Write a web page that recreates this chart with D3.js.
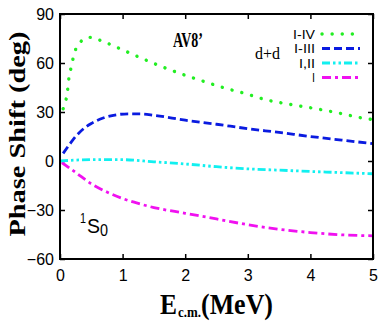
<!DOCTYPE html>
<html>
<head>
<meta charset="utf-8">
<script src="https://cdn.jsdelivr.net/npm/d3@7"></script>
<style>
	body { margin: 0; background: #fff; }
	svg { display: block; }
</style>
</head>
<body>
<div id="chart"></div>
<script>
'use strict';

// phase shifts (deg) vs E_cm (MeV)
var energyIV = [0.05, 0.08, 0.12, 0.14, 0.18, 0.23, 0.32, 0.47, 0.7, 0.96, 1.3, 1.61, 2.0, 2.26, 2.6, 2.94, 3.29, 3.7, 4.12, 4.5, 4.8, 5.0];
var shiftIV = [32, 35, 43, 50, 57.7, 66, 72.7, 75.7, 73, 68.7, 63, 58, 52.5, 49.2, 45, 41.5, 37.5, 34.5, 31.8, 29, 26.5, 25.3];

var energyIII = [0.05, 0.15, 0.25, 0.4, 0.5, 0.7, 0.9, 1.1, 1.3, 1.5, 2.0, 2.5, 3.0, 3.5, 4.0, 4.5, 5.0];
var shiftIII = [4.7, 10, 15, 20.5, 23, 26.5, 28.3, 28.9, 28.8, 28, 25, 22.5, 19.8, 17.5, 15, 12.8, 10.6];

var energyII = [0.0, 0.5, 1.0, 1.5, 2.0, 2.5, 3.0, 3.5, 4.0, 4.5, 5.0];
var shiftII = [0, 0.8, 0.8, -0.5, -1.8, -3.5, -4.8, -5.6, -6.4, -7.1, -7.8];

var energyI = [0.03, 0.25, 0.5, 0.75, 1.0, 1.25, 1.5, 2.0, 2.5, 3.0, 3.5, 4.0, 4.5, 5.0];
var shiftI = [-1, -7, -14, -19, -23, -26, -28.5, -32, -35.5, -39, -41.8, -43.8, -45.2, -45.8];

var xTicks = [0, 1, 2, 3, 4, 5];
var yTicks = [-60, -30, 0, 30, 60, 90];

var seriesNames = ["I-IV", "I-III", "I,II", "I"];

var series = [
	{ name: seriesNames[0], x: energyIV, y: shiftIV, color: "#22ee22", dash: "0.1,10", cap: "round", width: 3.4 },
	{ name: seriesNames[1], x: energyIII, y: shiftIII, color: "#0a1be0", dash: "8,4", cap: "butt", width: 2.8 },
	{ name: seriesNames[2], x: energyII, y: shiftII, color: "#11f0f0", dash: "8,3,2.5,3,2.5,3", cap: "butt", width: 2.8 },
	{ name: seriesNames[3], x: energyI, y: shiftI, color: "#f011f0", dash: "9,4,3,4", cap: "butt", width: 2.8 }
];

var width = 382, height = 327;
var margin = { left: 60, right: 9, top: 14, bottom: 68 };
var tickFont = "Liberation Sans, Arial, sans-serif";
var serifFont = "Liberation Serif, Times New Roman, serif";

var svg = d3.select("#chart").append("svg")
	.attr("width", width)
	.attr("height", height);

var x = d3.scaleLinear().domain([0, 5]).range([margin.left, width - margin.right]);
var y = d3.scaleLinear().domain([-60, 90]).range([height - margin.bottom, margin.top]);

// axes with inward ticks on all four sides
var tickLen = 5;
function styleAxis(g) {
	g.select(".domain").remove();
	g.selectAll("text").attr("font-family", tickFont).attr("font-size", "16px").attr("fill", "#000");
	g.selectAll("line").attr("stroke-width", 1.5);
}
svg.append("g")
	.attr("transform", "translate(0," + y(-60) + ")")
	.call(d3.axisBottom(x).tickValues(xTicks).tickFormat(d3.format("d")).tickSizeInner(-tickLen).tickSizeOuter(0).tickPadding(11))
	.call(styleAxis);
svg.append("g")
	.attr("transform", "translate(0," + y(90) + ")")
	.call(d3.axisTop(x).tickValues(xTicks).tickSizeInner(-tickLen).tickSizeOuter(0).tickFormat(""))
	.call(styleAxis);
svg.append("g")
	.attr("transform", "translate(" + x(0) + ",0)")
	.call(d3.axisLeft(y).tickValues(yTicks).tickSizeInner(-tickLen).tickSizeOuter(0).tickPadding(6))
	.call(styleAxis);
svg.append("g")
	.attr("transform", "translate(" + x(5) + ",0)")
	.call(d3.axisRight(y).tickValues(yTicks).tickSizeInner(-tickLen).tickSizeOuter(0).tickFormat(""))
	.call(styleAxis);

// curves
var line = d3.line()
	.x(function(d) { return x(d[0]); })
	.y(function(d) { return y(d[1]); })
	.curve(d3.curveMonotoneX);

svg.append("defs").append("clipPath").attr("id", "plotClip")
	.append("rect")
	.attr("x", x(0)).attr("y", y(90))
	.attr("width", x(5) - x(0)).attr("height", y(-60) - y(90));

series.slice().reverse().forEach(function(s) {
	var pts = s.x.map(function(v, i) { return [v, s.y[i]]; });
	svg.append("path")
		.attr("clip-path", "url(#plotClip)")
		.attr("d", line(pts))
		.attr("fill", "none")
		.attr("stroke", s.color)
		.attr("stroke-width", s.width)
		.attr("stroke-linecap", s.cap)
		.attr("stroke-dasharray", s.dash);
});

// frame
svg.append("rect")
	.attr("x", x(0)).attr("y", y(90))
	.attr("width", x(5) - x(0)).attr("height", y(-60) - y(90))
	.attr("fill", "none").attr("stroke", "#000").attr("stroke-width", 2);

// legend
var legend = svg.append("g").attr("font-family", tickFont).attr("font-size", "13px");
var legendWidths = [22, 21, 16, 3];
series.forEach(function(s, i) {
	var ly = 34 + i * 14.5;
	legend.append("text")
		.attr("x", 315).attr("y", ly + 4.5)
		.attr("text-anchor", "end")
		.attr("textLength", legendWidths[i])
		.attr("lengthAdjust", "spacingAndGlyphs")
		.text(s.name);
	legend.append("line")
		.attr("x1", 322).attr("x2", 360)
		.attr("y1", ly).attr("y2", ly)
		.attr("stroke", s.color)
		.attr("stroke-width", s.width)
		.attr("stroke-linecap", s.cap)
		.attr("stroke-dasharray", s.dash);
});

// annotations
svg.append("text")
	.attr("x", 173).attr("y", 47)
	.attr("font-family", serifFont).attr("font-weight", "bold").attr("font-size", "20px")
	.attr("textLength", 30).attr("lengthAdjust", "spacingAndGlyphs")
	.text("AV8\u2019");
svg.append("text")
	.attr("x", 255).attr("y", 59)
	.attr("font-family", serifFont).attr("font-size", "17px")
	.attr("textLength", 25).attr("lengthAdjust", "spacingAndGlyphs")
	.text("d+d");

var s0 = svg.append("g").attr("font-family", tickFont);
s0.append("text").attr("x", 80).attr("y", 222.5).attr("font-size", "14px")
	.attr("textLength", 6).attr("lengthAdjust", "spacingAndGlyphs").text("1");
s0.append("text").attr("x", 87).attr("y", 233).attr("font-size", "20px")
	.attr("textLength", 13).attr("lengthAdjust", "spacingAndGlyphs").text("S");
s0.append("text").attr("x", 100).attr("y", 236).attr("font-size", "17px")
	.attr("textLength", 8).attr("lengthAdjust", "spacingAndGlyphs").text("0");

// axis titles
svg.append("text")
	.attr("transform", "translate(25,134) rotate(-90)")
	.attr("text-anchor", "middle")
	.attr("font-family", serifFont).attr("font-weight", "bold").attr("font-size", "24px")
	.attr("textLength", 205).attr("lengthAdjust", "spacingAndGlyphs")
	.text("Phase Shift (deg)");

var xt = svg.append("g").attr("font-family", serifFont).attr("font-weight", "bold");
xt.append("text").attr("x", 160).attr("y", 313.5).attr("font-size", "30px")
	.attr("textLength", 17).attr("lengthAdjust", "spacingAndGlyphs").text("E");
xt.append("text").attr("x", 178).attr("y", 317).attr("font-size", "14px")
	.attr("textLength", 23).attr("lengthAdjust", "spacingAndGlyphs").text("c.m.");
xt.append("text").attr("x", 201).attr("y", 313.5).attr("font-size", "30px")
	.attr("textLength", 72).attr("lengthAdjust", "spacingAndGlyphs").text("(MeV)");
</script>
</body>
</html>
